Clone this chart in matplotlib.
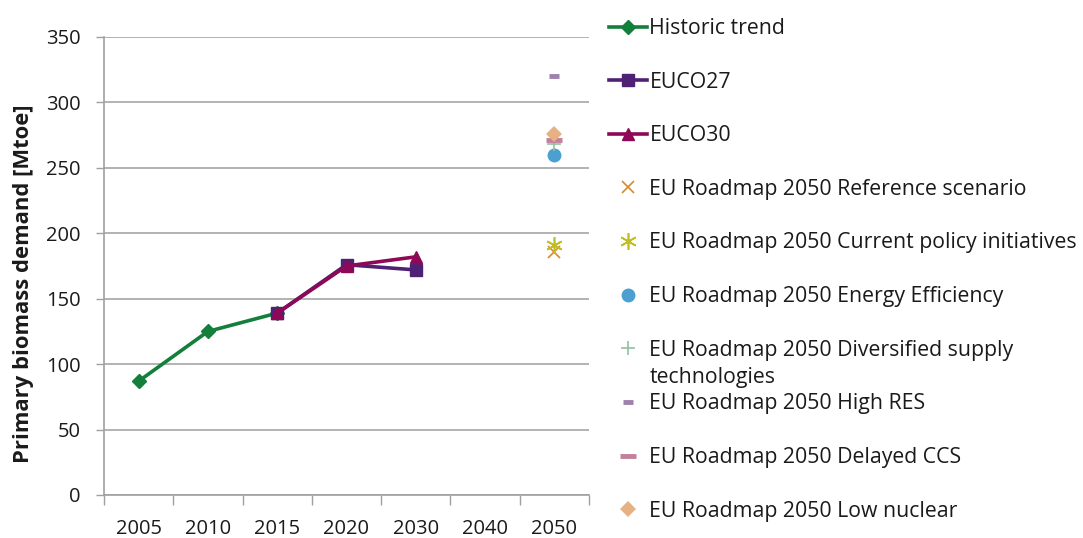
import matplotlib
matplotlib.use("Agg")
import matplotlib.pyplot as plt

plt.rcParams['font.family'] = ['Open Sans', 'DejaVu Sans']

categories = ["2005", "2010", "2015", "2020", "2030", "2040", "2050"]
historic = [87, 125, 139, None, None, None, None]
euco27 = [None, None, 139, 176, 172, None, None]
euco30 = [None, None, 139, 175, 182, None, None]

roadmap_labels = [
    "EU Roadmap 2050 Reference scenario",
    "EU Roadmap 2050 Current policy initiatives",
    "EU Roadmap 2050 Energy Efficiency",
    "EU Roadmap 2050 Diversified supply",
    "EU Roadmap 2050 High RES",
    "EU Roadmap 2050 Delayed CCS",
    "EU Roadmap 2050 Low nuclear",
]
roadmap_values = [186, 191, 260, 268, 320, 271, 276]
roadmap_year = "2050"

yticks = [0, 50, 100, 150, 200, 250, 300, 350]

FS = 14.5
LFS = 15.3
TXT = '#1a1a1a'

fig = plt.figure(figsize=(10.83, 5.38), dpi=100)
ax = fig.add_axes([104/1083, 1-495/538, (589-104)/1083, (495-37)/538])

xs = list(range(len(categories)))

def series(vals):
    px = [x for x, v in zip(xs, vals) if v is not None]
    py = [v for v in vals if v is not None]
    return px, py

hx, hy = series(historic)
h1, = ax.plot(hx, hy, color='#137f3b', lw=2.6, marker='D', ms=7, label='Historic trend', zorder=3)
ex, ey = series(euco27)
h2, = ax.plot(ex, ey, color='#4e2175', lw=2.6, marker='s', ms=9, label='EUCO27', zorder=4)
fx, fy = series(euco30)
h3, = ax.plot(fx, fy, color='#8e0857', lw=2.6, marker='^', ms=9, label='EUCO30', zorder=5)

rx = categories.index(roadmap_year)
styles = [
    dict(marker='x', color='#d98b2b', ms=9, mew=1.2),
    dict(marker=(6, 2, 0), color='#bfbf1f', ms=12, mew=1.2),
    dict(marker='o', color='#4b9fd1', ms=10, mew=0),
    dict(marker='+', color='#92c0a0', ms=10, mew=1.2),
    dict(marker='_', color='#9c82ad', ms=7, mew=3.5),
    dict(marker='_', color='#c47f9c', ms=11, mew=3.5),
    dict(marker='D', color='#e6b284', ms=8, mew=0),
]
zorders = [6, 7, 6, 6, 6, 7, 8]
handles = [h1, h2, h3]
for i, (lab, val, st) in enumerate(zip(roadmap_labels, roadmap_values, styles)):
    h, = ax.plot([rx], [val], linestyle='none', label=lab, zorder=zorders[i], **st)
    handles.append(h)

ax.set_xlim(-0.5, len(categories) - 0.5)
ax.set_ylim(0, 350)
ax.set_yticks(yticks)
ax.set_xticks(xs)
ax.set_xticklabels(categories)
ax.set_xticks([x - 0.5 for x in range(len(categories) + 1)], minor=True)
ax.tick_params(axis='x', which='major', length=0, pad=17, labelsize=FS, colors=TXT)
ax.tick_params(axis='x', which='minor', length=7, color='#a0a0a0', width=1)
ax.tick_params(axis='y', length=6, color='#a0a0a0', width=1, labelsize=FS, colors=TXT, pad=11)
ax.yaxis.grid(True, color='#a6a6a6', lw=1.2)
ax.set_axisbelow(True)
for s in ['top', 'right']:
    ax.spines[s].set_visible(False)
for s in ['left', 'bottom']:
    ax.spines[s].set_color('#a0a0a0')
    ax.spines[s].set_linewidth(1.2)

ax.set_ylabel('Primary biomass demand [Mtoe]', fontsize=15.8, fontweight='bold', color=TXT)
ax.yaxis.set_label_coords((24-104)/485, (495-284)/458)
ax.yaxis.label.set_va('center')

leg = fig.legend(handles=handles, loc='upper left', bbox_to_anchor=(609/1083, 1 - 18/538),
                 frameon=False, fontsize=LFS, handlelength=1.8, handletextpad=0.1,
                 labelspacing=1.535, borderaxespad=0, borderpad=0)
for t in leg.get_texts():
    t.set_color(TXT)
fig.text(650/1083, 1 - 377/538, 'technologies', fontsize=LFS, va='center', ha='left', color=TXT)

fig.savefig('out.png', dpi=100)
